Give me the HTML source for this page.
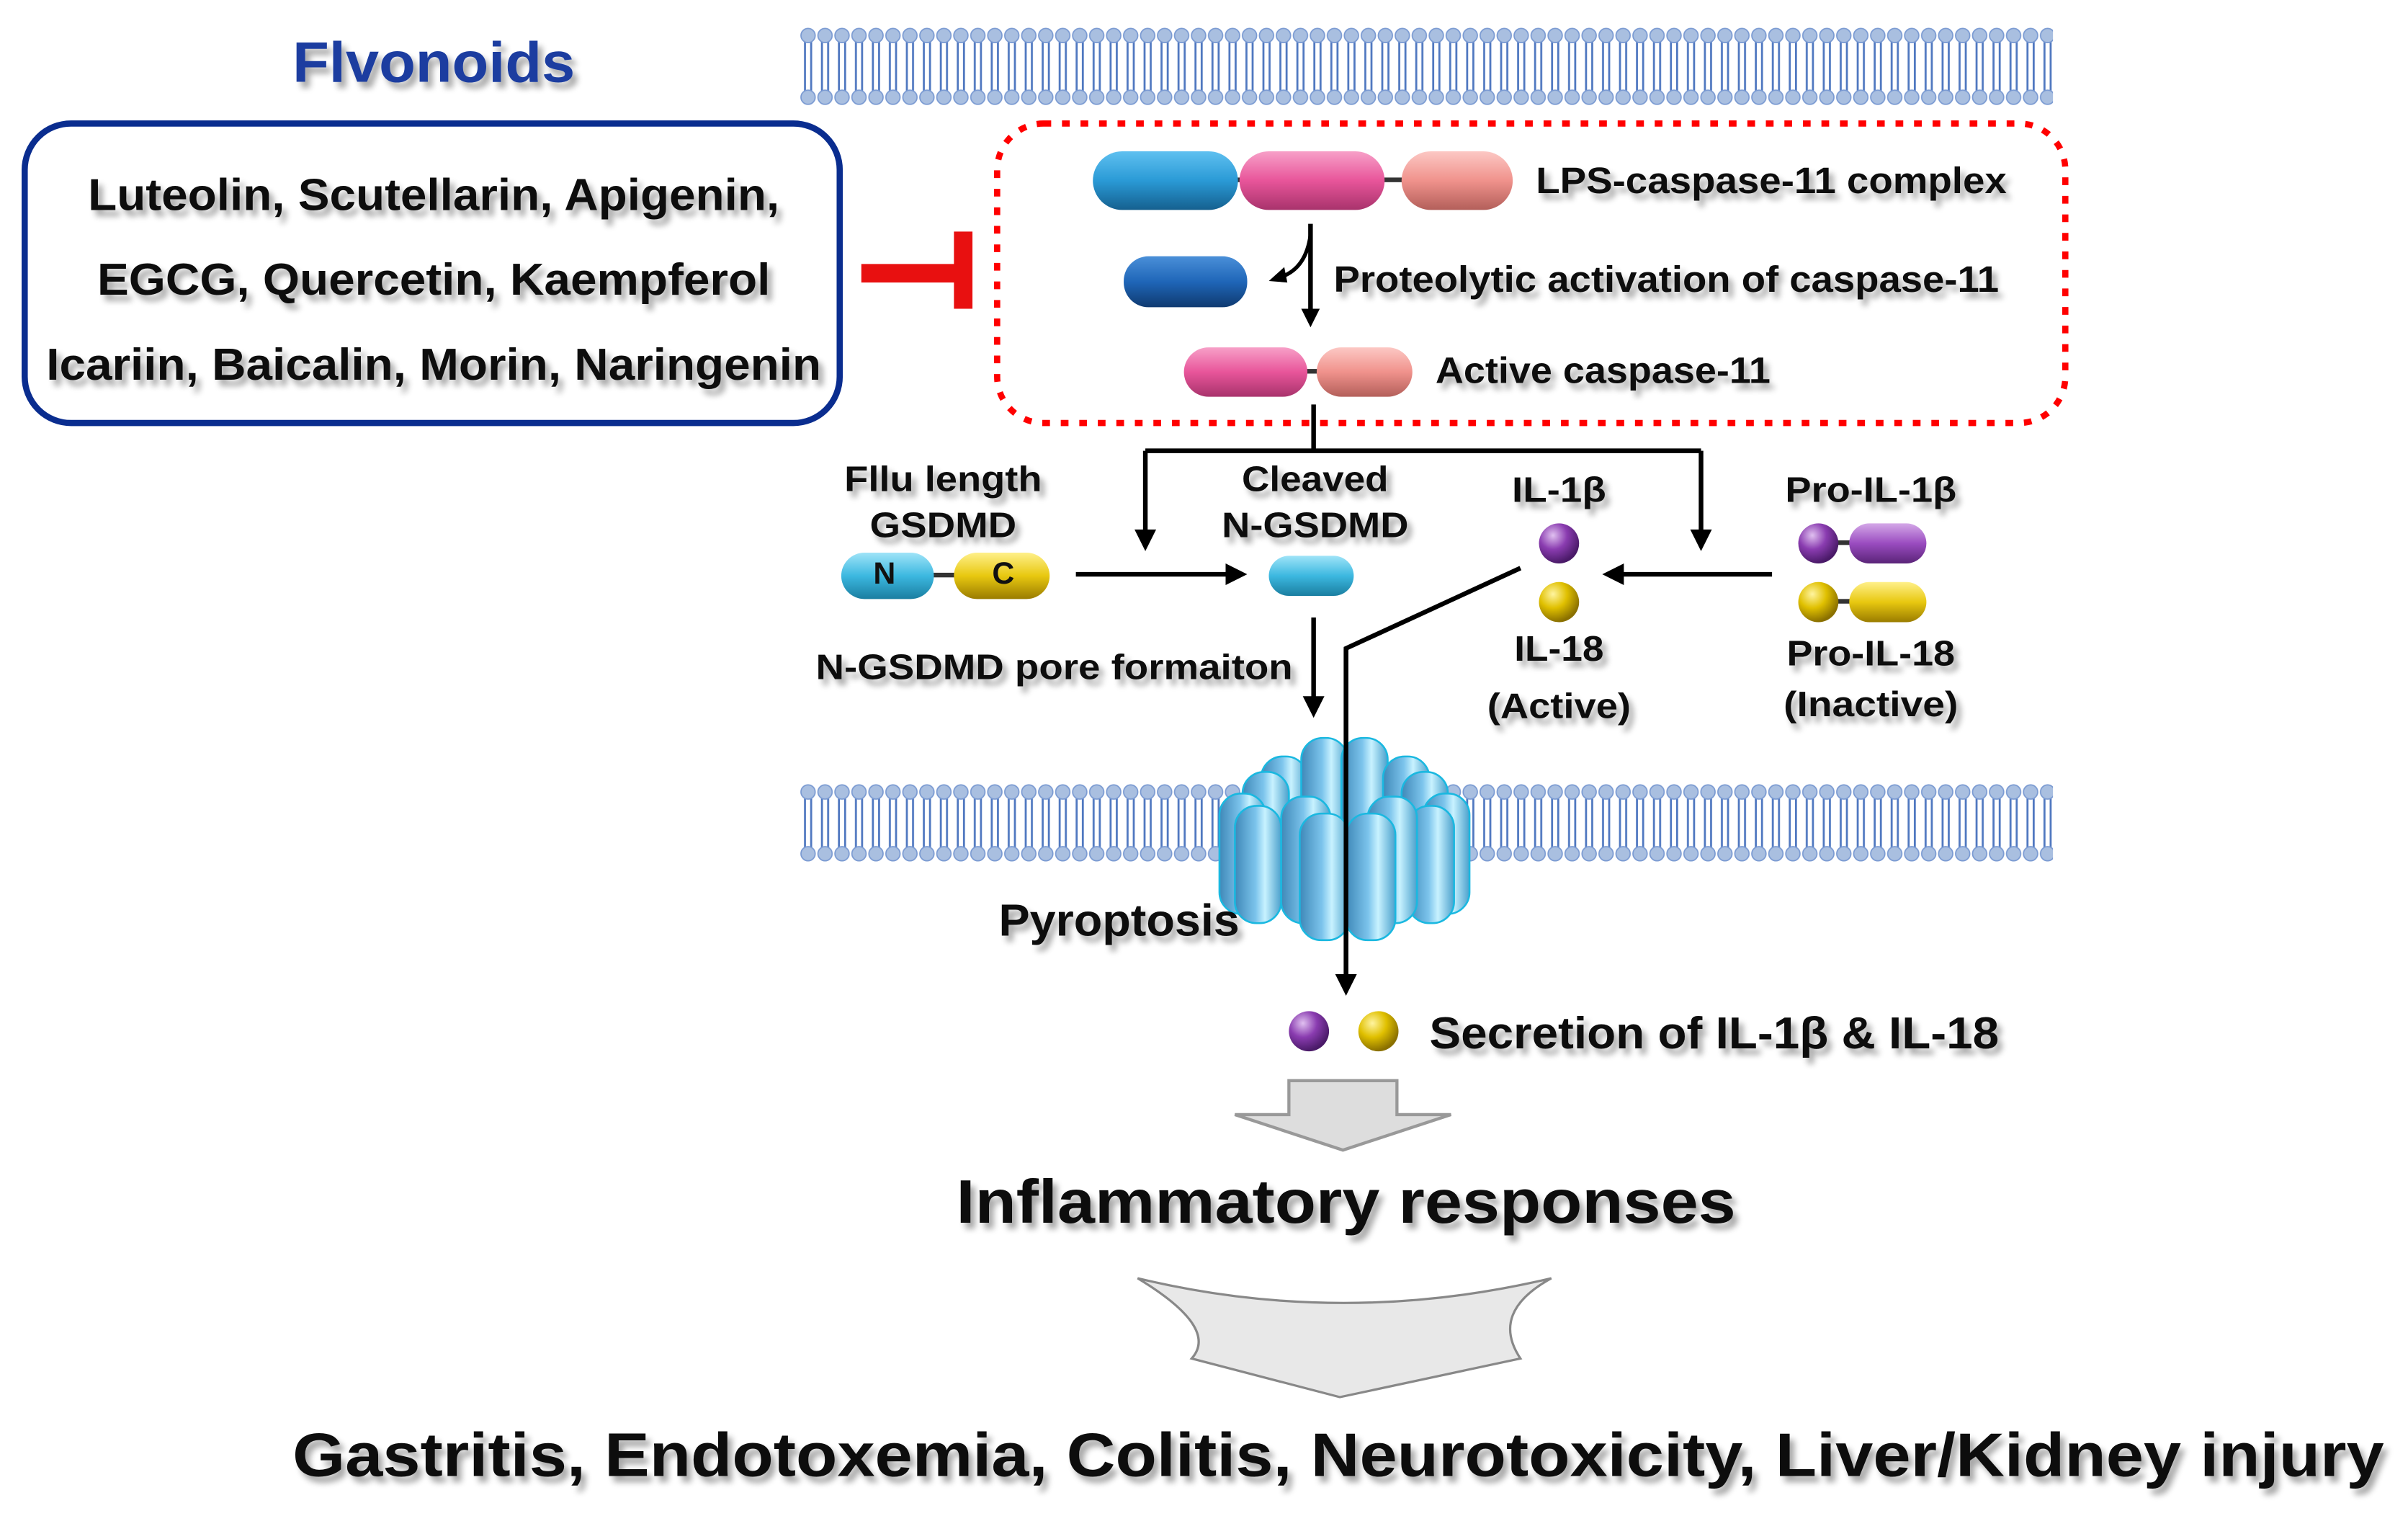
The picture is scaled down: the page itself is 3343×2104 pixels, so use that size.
<!DOCTYPE html>
<html><head><meta charset="utf-8"><style>
html,body{margin:0;padding:0;background:#fff;}
svg{display:block;}
text{font-family:"Liberation Sans",Arial,sans-serif;font-weight:bold;fill:#111;}
</style></head><body>
<svg width="3343" height="2104" viewBox="0 0 1560 982" preserveAspectRatio="none" xmlns="http://www.w3.org/2000/svg">
<defs>
<pattern id="mem" x="0" y="0" width="11" height="50" patternUnits="userSpaceOnUse">
<line x1="3.5" y1="8" x2="3.5" y2="42" stroke="#5078c0" stroke-width="1.3"/>
<line x1="7.5" y1="8" x2="7.5" y2="42" stroke="#5078c0" stroke-width="1.3"/>
<circle cx="5.5" cy="5" r="4.6" fill="#a9bfe0" stroke="#7a9ad2" stroke-width="0.8"/>
<circle cx="5.5" cy="45" r="4.6" fill="#a9bfe0" stroke="#7a9ad2" stroke-width="0.8"/>
</pattern>
<linearGradient id="blue" x1="0" y1="0" x2="0" y2="1"><stop offset="0" stop-color="#5fc0f0"/><stop offset=".5" stop-color="#2a9ad6"/><stop offset="1" stop-color="#15608f"/></linearGradient>
<linearGradient id="dblue" x1="0" y1="0" x2="0" y2="1"><stop offset="0" stop-color="#4a8fd8"/><stop offset=".5" stop-color="#1f66b8"/><stop offset="1" stop-color="#0f3a70"/></linearGradient>
<linearGradient id="pink" x1="0" y1="0" x2="0" y2="1"><stop offset="0" stop-color="#f7a0c8"/><stop offset=".5" stop-color="#e8559a"/><stop offset="1" stop-color="#a8336c"/></linearGradient>
<linearGradient id="salmon" x1="0" y1="0" x2="0" y2="1"><stop offset="0" stop-color="#fcc8c4"/><stop offset=".5" stop-color="#f0928c"/><stop offset="1" stop-color="#b35f5a"/></linearGradient>
<linearGradient id="cyan" x1="0" y1="0" x2="0" y2="1"><stop offset="0" stop-color="#9fe4f8"/><stop offset=".5" stop-color="#3cb8e0"/><stop offset="1" stop-color="#1a7ea0"/></linearGradient>
<linearGradient id="yel" x1="0" y1="0" x2="0" y2="1"><stop offset="0" stop-color="#fff08a"/><stop offset=".5" stop-color="#e8c810"/><stop offset="1" stop-color="#9a7c00"/></linearGradient>
<linearGradient id="purp" x1="0" y1="0" x2="0" y2="1"><stop offset="0" stop-color="#d4a8e8"/><stop offset=".5" stop-color="#9a4cc0"/><stop offset="1" stop-color="#5a2478"/></linearGradient>
<linearGradient id="cyl" x1="0" y1="0" x2="1" y2="0"><stop offset="0" stop-color="#3f88b8"/><stop offset=".45" stop-color="#7cc4ec"/><stop offset=".65" stop-color="#c8f2ff"/><stop offset="1" stop-color="#4aa0cc"/></linearGradient>
<radialGradient id="pb" cx=".35" cy=".3" r=".7"><stop offset="0" stop-color="#e0c0f0"/><stop offset=".5" stop-color="#8a3cb0"/><stop offset="1" stop-color="#4a1a68"/></radialGradient>
<radialGradient id="yb" cx=".35" cy=".3" r=".7"><stop offset="0" stop-color="#fff4a0"/><stop offset=".5" stop-color="#e0c000"/><stop offset="1" stop-color="#8a7000"/></radialGradient>
<filter id="sh" x="-10%" y="-30%" width="130%" height="180%"><feGaussianBlur in="SourceAlpha" stdDeviation="2"/><feOffset dx="3" dy="4"/><feComponentTransfer><feFuncA type="linear" slope="0.35"/></feComponentTransfer><feMerge><feMergeNode/><feMergeNode in="SourceGraphic"/></feMerge></filter>
</defs>

<!-- membranes -->
<g transform="translate(518,18)"><rect x="0" y="0" width="812" height="50" fill="url(#mem)"/></g>
<g transform="translate(518,508)"><rect x="0" y="0" width="812" height="50" fill="url(#mem)"/></g>

<!-- Flavonoids -->
<text x="281" y="53" font-size="37" text-anchor="middle" textLength="183" lengthAdjust="spacingAndGlyphs" style="fill:#1a3ea0" filter="url(#sh)">Flvonoids</text>
<rect x="16" y="80" width="528" height="194" rx="30" fill="#fff" stroke="#0a2d8f" stroke-width="4"/>
<g font-size="29" text-anchor="middle" filter="url(#sh)">
<text x="281" y="136" textLength="448" lengthAdjust="spacingAndGlyphs">Luteolin, Scutellarin, Apigenin,</text>
<text x="281" y="191" textLength="436" lengthAdjust="spacingAndGlyphs">EGCG, Quercetin, Kaempferol</text>
<text x="281" y="246" textLength="502" lengthAdjust="spacingAndGlyphs">Icariin, Baicalin, Morin, Naringenin</text>
</g>
<rect x="558" y="171" width="65" height="12" fill="#e81010"/>
<rect x="618" y="150" width="12" height="50" fill="#e81010"/>

<!-- red dotted -->
<rect x="646" y="80" width="692" height="194" rx="30" fill="none" stroke="#f00" stroke-width="4" stroke-dasharray="5,7"/>

<!-- LPS complex -->
<rect x="800" y="115" width="110" height="3" fill="#333"/>
<rect x="708" y="98" width="94" height="38" rx="19" fill="url(#blue)"/>
<rect x="803" y="98" width="94" height="38" rx="19" fill="url(#pink)"/>
<rect x="908" y="98" width="72" height="38" rx="19" fill="url(#salmon)"/>
<g font-size="24" filter="url(#sh)">
<text x="995" y="125" textLength="305" lengthAdjust="spacingAndGlyphs">LPS-caspase-11 complex</text>
<text x="864" y="189" textLength="431" lengthAdjust="spacingAndGlyphs">Proteolytic activation of caspase-11</text>
<text x="930" y="248" textLength="217" lengthAdjust="spacingAndGlyphs">Active caspase-11</text>
</g>
<rect x="728" y="166" width="80" height="33" rx="16" fill="url(#dblue)"/>
<path d="M849 145 L849 205" stroke="#000" stroke-width="3" fill="none"/>
<path d="M849 212 l-6 -12 h12 z" fill="#000"/>
<path d="M849 152 Q846 175 828 180" stroke="#000" stroke-width="2.5" fill="none"/>
<path d="M822 182 l10 -9 l2 10 z" fill="#000"/>
<rect x="840" y="239" width="20" height="3" fill="#333"/>
<rect x="767" y="225" width="80" height="32" rx="16" fill="url(#pink)"/>
<rect x="853" y="225" width="62" height="32" rx="16" fill="url(#salmon)"/>

<!-- branching -->
<g stroke="#000" stroke-width="3" fill="none">
<path d="M851 262 V292 M742 292 H1102 M742 292 V345 M1102 292 V345"/>
<path d="M697 372 H795"/>
<path d="M851 400 V452"/>
<path d="M1148 372 H1050"/>
<path d="M985 368 L872 420 V632"/>
</g>
<g fill="#000">
<path d="M742 357 l-7 -14 h14 z"/>
<path d="M1102 357 l-7 -14 h14 z"/>
<path d="M808 372 l-14 -7 v14 z"/>
<path d="M851 465 l-7 -14 h14 z"/>
<path d="M1038 372 l14 -7 v14 z"/>
<path d="M872 645 l-7 -14 h14 z"/>
</g>

<!-- GSDMD -->
<g font-size="23" text-anchor="middle" filter="url(#sh)">
<text x="611" y="318" textLength="128" lengthAdjust="spacingAndGlyphs">Fllu length</text>
<text x="611" y="348" textLength="95" lengthAdjust="spacingAndGlyphs">GSDMD</text>
<text x="852" y="318" textLength="95" lengthAdjust="spacingAndGlyphs">Cleaved</text>
<text x="852" y="348" textLength="121" lengthAdjust="spacingAndGlyphs">N-GSDMD</text>
<text x="683" y="440" textLength="309" lengthAdjust="spacingAndGlyphs">N-GSDMD pore formaiton</text>
<text x="1010" y="325" textLength="61" lengthAdjust="spacingAndGlyphs">IL-1β</text>
<text x="1010" y="428" textLength="58" lengthAdjust="spacingAndGlyphs">IL-18</text>
<text x="1010" y="465" textLength="93" lengthAdjust="spacingAndGlyphs">(Active)</text>
<text x="1212" y="325" textLength="111" lengthAdjust="spacingAndGlyphs">Pro-IL-1β</text>
<text x="1212" y="431" textLength="109" lengthAdjust="spacingAndGlyphs">Pro-IL-18</text>
<text x="1212" y="464" textLength="113" lengthAdjust="spacingAndGlyphs">(Inactive)</text>
</g>
<rect x="600" y="371" width="22" height="3" fill="#333"/>
<rect x="545" y="358" width="60" height="30" rx="15" fill="url(#cyan)"/>
<rect x="618" y="358" width="62" height="30" rx="15" fill="url(#yel)"/>
<text x="573" y="378" font-size="20" text-anchor="middle">N</text>
<text x="650" y="378" font-size="20" text-anchor="middle">C</text>
<rect x="822" y="360" width="55" height="26" rx="13" fill="url(#cyan)"/>

<circle cx="1010" cy="352" r="13" fill="url(#pb)"/>
<circle cx="1010" cy="390" r="13" fill="url(#yb)"/>
<rect x="1185" y="350" width="20" height="3" fill="#333"/>
<rect x="1185" y="388" width="20" height="3" fill="#333"/>
<circle cx="1178" cy="352" r="13" fill="url(#pb)"/>
<rect x="1198" y="339" width="50" height="26" rx="13" fill="url(#purp)"/>
<circle cx="1178" cy="390" r="13" fill="url(#yb)"/>
<rect x="1198" y="377" width="50" height="26" rx="13" fill="url(#yel)"/>

<!-- pore -->
<g stroke="#1ab8e0" stroke-width="1.2">
<rect x="817" y="490" width="30" height="80" rx="14" fill="url(#cyl)"/>
<rect x="843" y="478" width="30" height="82" rx="14" fill="url(#cyl)"/>
<rect x="869" y="478" width="30" height="82" rx="14" fill="url(#cyl)"/>
<rect x="896" y="490" width="30" height="80" rx="14" fill="url(#cyl)"/>
<rect x="805" y="500" width="30" height="80" rx="14" fill="url(#cyl)"/>
<rect x="908" y="500" width="30" height="80" rx="14" fill="url(#cyl)"/>
<rect x="790" y="514" width="30" height="78" rx="14" fill="url(#cyl)"/>
<rect x="922" y="514" width="30" height="78" rx="14" fill="url(#cyl)"/>
<rect x="800" y="522" width="30" height="76" rx="14" fill="url(#cyl)"/>
<rect x="912" y="522" width="30" height="76" rx="14" fill="url(#cyl)"/>
<rect x="830" y="516" width="32" height="82" rx="14" fill="url(#cyl)"/>
<rect x="886" y="516" width="32" height="82" rx="14" fill="url(#cyl)"/>
<rect x="842" y="527" width="32" height="82" rx="14" fill="url(#cyl)"/>
<rect x="872" y="527" width="32" height="82" rx="14" fill="url(#cyl)"/>
</g>
<path d="M872 420 V632" stroke="#000" stroke-width="3"/>

<text x="725" y="606" font-size="29" text-anchor="middle" textLength="156" lengthAdjust="spacingAndGlyphs" filter="url(#sh)">Pyroptosis</text>

<circle cx="848" cy="668" r="13" fill="url(#pb)"/>
<circle cx="893" cy="668" r="13" fill="url(#yb)"/>
<text x="926" y="679" font-size="29" textLength="369" lengthAdjust="spacingAndGlyphs" filter="url(#sh)">Secretion of IL-1β &amp; IL-18</text>

<path d="M835 700 H905 V722 H940 L870 745 L800 722 H835 Z" fill="#ddd" stroke="#999" stroke-width="2"/>
<text x="872" y="792" font-size="40" text-anchor="middle" textLength="505" lengthAdjust="spacingAndGlyphs" filter="url(#sh)">Inflammatory responses</text>

<path d="M737 828 Q790 860 772 880 L868 905 L985 880 Q965 850 1005 828 Q870 860 737 828 Z" fill="#e8e8e8" stroke="#888" stroke-width="1.5"/>

<text x="867" y="956" font-size="40" text-anchor="middle" textLength="1355" lengthAdjust="spacingAndGlyphs" filter="url(#sh)">Gastritis, Endotoxemia, Colitis, Neurotoxicity, Liver/Kidney injury</text>
</svg>
</body></html>
